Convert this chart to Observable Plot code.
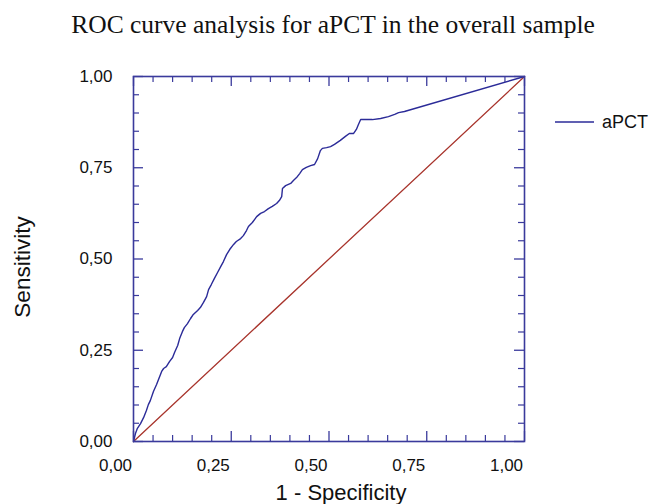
<!DOCTYPE html>
<html>
<head>
<meta charset="utf-8">
<script src="https://cdn.jsdelivr.net/npm/d3@7"></script>
<script src="https://cdn.jsdelivr.net/npm/@observablehq/plot@0.6"></script>
<style>
  html, body { margin: 0; padding: 0; background: #fff; }
  #chart { position: relative; width: 651px; height: 504px; overflow: hidden; }
</style>
</head>
<body>
<div id="chart"></div>
<script>
const title = "ROC curve analysis for aPCT in the overall sample";
const xLabel = "1 - Specificity";
const yLabel = "Sensitivity";
const seriesName = "aPCT";

// ROC curve of aPCT (1 - specificity, sensitivity)
const fpr = [0, 0.005, 0.010, 0.018, 0.026, 0.033, 0.038, 0.043, 0.051, 0.059, 0.064, 0.072, 0.077, 0.084, 0.092, 0.100, 0.105, 0.113, 0.118, 0.125, 0.130, 0.138, 0.146, 0.153, 0.164, 0.171, 0.179, 0.187, 0.192, 0.199, 0.207, 0.215, 0.223, 0.230, 0.238, 0.246, 0.256, 0.263, 0.274, 0.281, 0.289, 0.294, 0.304, 0.315, 0.325, 0.335, 0.345, 0.355, 0.366, 0.373, 0.379, 0.381, 0.389, 0.402, 0.409, 0.417, 0.425, 0.432, 0.442, 0.453, 0.463, 0.471, 0.478, 0.483, 0.494, 0.504, 0.514, 0.529, 0.542, 0.552, 0.563, 0.570, 0.575, 0.581, 0.611, 0.632, 0.652, 0.668, 0.678, 0.693, 1];
const tpr = [0, 0.022, 0.036, 0.049, 0.066, 0.085, 0.101, 0.112, 0.137, 0.156, 0.170, 0.192, 0.200, 0.205, 0.219, 0.230, 0.244, 0.263, 0.282, 0.301, 0.312, 0.323, 0.337, 0.348, 0.359, 0.367, 0.381, 0.397, 0.416, 0.430, 0.447, 0.463, 0.479, 0.493, 0.512, 0.526, 0.540, 0.548, 0.556, 0.564, 0.578, 0.589, 0.600, 0.616, 0.625, 0.630, 0.638, 0.644, 0.652, 0.660, 0.671, 0.693, 0.701, 0.707, 0.715, 0.723, 0.734, 0.745, 0.751, 0.756, 0.759, 0.775, 0.797, 0.803, 0.805, 0.808, 0.814, 0.825, 0.836, 0.844, 0.844, 0.855, 0.868, 0.882, 0.882, 0.885, 0.890, 0.896, 0.901, 0.904, 1];

// reference (chance) line
const diagX = [0, 1];
const diagY = [0, 1];

const majorTicks = [0, 0.25, 0.5, 0.75, 1];
const minorTicks = [0.05, 0.1, 0.15, 0.2, 0.3, 0.35, 0.4, 0.45, 0.55, 0.6, 0.65, 0.7, 0.8, 0.85, 0.9, 0.95];
const tickLabels = ["0,00", "0,25", "0,50", "0,75", "1,00"];

const curve = fpr.map((x, i) => ({x, y: tpr[i]}));
const diag = diagX.map((x, i) => ({x, y: diagY[i]}));

const W = 651, H = 504;
const mL = 133, mR = 127, mT = 76, mB = 63;
const fw = W - mL - mR, fh = H - mT - mB;
const MAJ = 10, MIN = 6;
const axisColor = "#3a3a9c";
const fmt = d => tickLabels[majorTicks.indexOf(d)];

const plot = Plot.plot({
  width: W, height: H,
  marginLeft: mL, marginRight: mR, marginTop: mT, marginBottom: mB,
  style: {fontFamily: "'Liberation Sans', Arial, sans-serif", fontSize: "17px", color: "#111", background: "#fff"},
  x: {domain: [0, 1]},
  y: {domain: [0, 1]},
  marks: [
    Plot.line(diag, {x: "x", y: "y", stroke: "#a8342c", strokeWidth: 1.3}),
    Plot.line(curve, {x: "x", y: "y", stroke: "#2b2b98", strokeWidth: 1.4}),
    // inward ticks on all sides
    Plot.ruleX(majorTicks, {x: d => d, insetTop: fh - MAJ, stroke: axisColor, strokeWidth: 1.3}),
    Plot.ruleX(minorTicks, {x: d => d, insetTop: fh - MIN, stroke: axisColor, strokeWidth: 1.2}),
    Plot.ruleX(majorTicks, {x: d => d, insetBottom: fh - MAJ, stroke: axisColor, strokeWidth: 1.3}),
    Plot.ruleX(minorTicks, {x: d => d, insetBottom: fh - MIN, stroke: axisColor, strokeWidth: 1.2}),
    Plot.ruleY(majorTicks, {y: d => d, insetRight: fw - MAJ, stroke: axisColor, strokeWidth: 1.3}),
    Plot.ruleY(minorTicks, {y: d => d, insetRight: fw - MIN, stroke: axisColor, strokeWidth: 1.2}),
    Plot.ruleY(majorTicks, {y: d => d, insetLeft: fw - MAJ, stroke: axisColor, strokeWidth: 1.3}),
    Plot.ruleY(minorTicks, {y: d => d, insetLeft: fw - MIN, stroke: axisColor, strokeWidth: 1.2}),
    Plot.frame({stroke: axisColor, strokeWidth: 1.6}),
    Plot.axisX(majorTicks, {anchor: "bottom", tickSize: 0, tickPadding: 17, tickFormat: fmt, dx: -18, fontSize: 17, label: null}),
    Plot.axisY(majorTicks, {anchor: "left", tickSize: 0, tickPadding: 21, tickFormat: fmt, fontSize: 17, label: null}),
    Plot.text([xLabel], {text: d => d, frameAnchor: "bottom", lineAnchor: "middle", dy: 51, dx: 12, fontSize: 22, fill: "#111"}),
    Plot.text([yLabel], {text: d => d, frameAnchor: "left", textAnchor: "middle", lineAnchor: "middle", dx: -111, dy: 8, rotate: -90, fontSize: 22.5, fill: "#111"}),
    Plot.text([title], {text: d => d, frameAnchor: "top", lineAnchor: "middle", dy: -52, dx: 4, fontSize: 25.5, fontFamily: "'Liberation Serif', 'Times New Roman', serif", fill: "#111"})
  ]
});

document.getElementById("chart").appendChild(plot);

// legend in the right margin
const svg = d3.select(plot);
const lg = svg.append("g").attr("transform", "translate(555,122)");
lg.append("line").attr("x1", 0).attr("x2", 39).attr("y1", 0).attr("y2", 0)
  .attr("stroke", "#2b2b98").attr("stroke-width", 1.5);
lg.append("text").attr("x", 47).attr("y", 0).attr("dy", "0.35em")
  .attr("text-anchor", "start")
  .attr("font-size", 18).attr("fill", "#111").text(seriesName);
</script>
</body>
</html>
